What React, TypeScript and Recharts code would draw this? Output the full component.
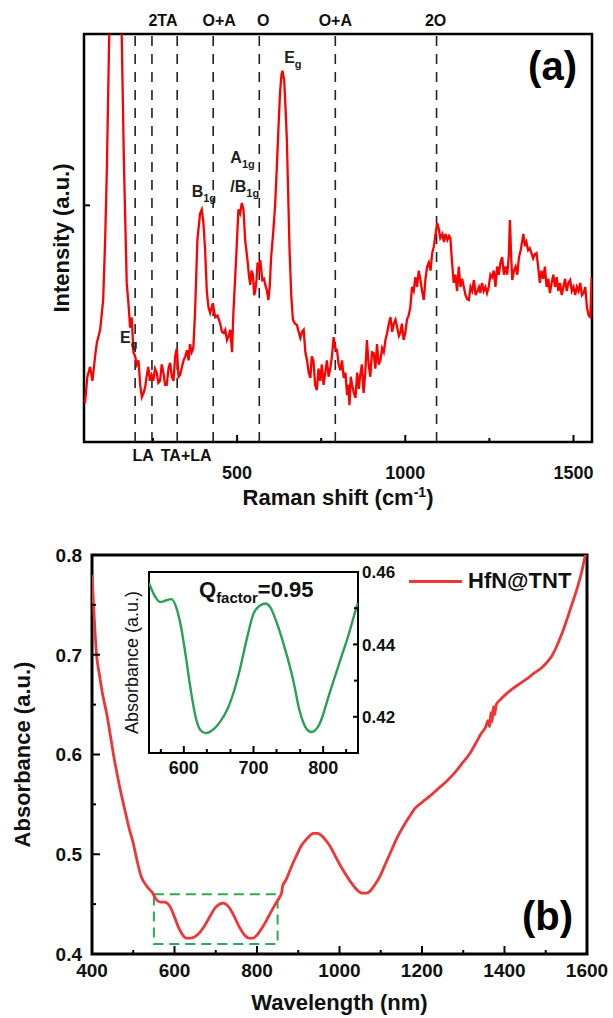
import React from 'react'
import {
  LineChart,
  Line,
  XAxis,
  YAxis,
  ReferenceLine,
  ReferenceArea,
  ReferenceDot,
  Legend,
} from 'recharts'

const FONT = '"Liberation Sans", Arial, Helvetica, sans-serif'

// ---------- (a) Raman spectrum ----------
const ramanShift = [
  48, 55, 63, 70, 78, 83, 93, 102, 108, 113,
  120, 137, 157, 164, 172, 178, 182, 187, 192, 197,
  202, 207, 212, 217, 222, 227, 231, 236, 241, 246,
  251, 256, 261, 266, 271, 276, 281, 286, 291, 296,
  301, 306, 311, 316, 321, 326, 331, 336, 341, 346,
  351, 356, 360, 365, 370, 375, 382, 390, 395, 400,
  405, 410, 415, 420, 428, 435, 442, 450, 455, 460,
  465, 470, 475, 480, 485, 489, 497, 504, 509, 514,
  519, 524, 531, 535, 539, 543, 547, 551, 554, 558,
  561, 565, 569, 575, 580, 584, 589, 593, 597, 601,
  608, 613, 618, 623, 628, 632, 635, 640, 644, 648,
  656, 661, 666, 672, 678, 683, 688, 693, 698, 703,
  708, 713, 718, 722, 727, 732, 737, 742, 747, 752,
  757, 762, 767, 772, 777, 782, 787, 792, 797, 802,
  807, 812, 817, 822, 827, 831, 834, 838, 842, 847,
  852, 857, 862, 866, 871, 876, 881, 886, 891, 896,
  901, 906, 911, 916, 921, 926, 931, 936, 941, 946,
  951, 956, 961, 966, 971, 976, 981, 985, 990, 995,
  1000, 1005, 1010, 1015, 1020, 1025, 1030, 1035, 1040, 1045,
  1050, 1055, 1060, 1065, 1070, 1075, 1080, 1085, 1090, 1095,
  1100, 1104, 1110, 1115, 1119, 1125, 1130, 1134, 1139, 1144,
  1149, 1154, 1159, 1164, 1169, 1174, 1179, 1184, 1189, 1194,
  1199, 1204, 1209, 1214, 1219, 1223, 1228, 1233, 1238, 1243,
  1248, 1253, 1258, 1263, 1268, 1273, 1278, 1283, 1288, 1293,
  1298, 1303, 1308, 1311, 1315, 1318, 1323, 1328, 1333, 1338,
  1343, 1347, 1351, 1356, 1360, 1365, 1370, 1375, 1380, 1385,
  1390, 1395, 1400, 1405, 1410, 1415, 1420, 1425, 1430, 1435,
  1440, 1445, 1450, 1455, 1460, 1465, 1470, 1475, 1480, 1485,
  1490, 1495, 1500, 1505, 1510, 1515, 1520, 1525, 1530, 1535,
  1540, 1545, 1550, 1554,
]
const ramanIntensity = [
  9.5, 16, 18.4, 15, 21, 24.2, 27.5, 34.8, 50, 67,
  100, 170, 100, 67, 39, 33, 28, 30.5, 22, 21,
  19, 20, 14, 11, 12, 13.5, 16, 18.4, 15, 16.4,
  15, 18, 17, 14.5, 15, 19, 17, 14, 14, 18,
  19.4, 16, 15, 21, 23, 16, 16.5, 18.4, 20, 21,
  22.5, 20, 24, 22, 23, 31.6, 49.5, 56, 57, 53.7,
  47, 37, 33, 31.6, 34, 30.6, 31, 29, 27, 26.7,
  27.5, 25, 26, 27.5, 22, 31.6, 44.6, 57, 56, 58.6,
  57, 49.5, 44.6, 41, 38.5, 42, 41, 36, 37, 40,
  44, 42, 44.6, 39.7, 40, 38.5, 37, 34.8, 38, 45,
  52, 58, 67, 77, 86, 90, 91, 88.7, 82, 74,
  47, 36, 30, 29, 28.7, 27, 25.5, 27, 27.5, 22,
  20, 17, 15.7, 21, 20, 14, 12.7, 18, 15, 19,
  14, 17, 20, 16, 18, 21, 25.7, 23, 22.5, 19,
  17.6, 20, 15.7, 17, 11.5, 14, 9, 16, 14, 12,
  10.8, 17, 13, 16.4, 19, 12, 17, 25, 19, 16,
  22, 21.8, 18, 24, 19, 20, 23, 22, 25, 26.7,
  29, 30.6, 27, 29, 30, 28, 26, 26.7, 29, 25,
  26.7, 30, 31, 33, 38, 37, 40.4, 38, 42, 39.7,
  37, 34.8, 40, 43, 44, 42, 46.3, 48, 51, 53.7,
  52, 50, 51, 49, 51, 49.5, 50.5, 50, 44, 39,
  41, 37, 43, 38, 40, 38, 36, 35, 34.8, 38,
  37, 39.7, 36, 37, 38, 36.5, 39, 37, 38, 36.5,
  38, 41, 40.4, 42, 38, 43, 41, 44, 45.3, 41,
  43, 41, 46, 54.4, 45, 39.7, 42, 43, 41, 45.3,
  47, 49, 51, 48, 49, 47, 47.5, 46.3, 45, 46,
  46.3, 43, 39, 42, 40, 43, 38, 40, 36.5, 39,
  41, 38, 40.4, 37, 39, 36, 38, 40, 37, 39,
  39.7, 37, 38, 36, 38, 37, 39, 36, 36.5, 38,
  33, 31, 30.6, 40.4,
]
const ramanTicks = [250, 500, 750, 1000, 1250, 1500]
const ramanMajor = [500, 1000, 1500]

const phononShift = [197, 247, 322, 429, 566, 792, 1093]
const phononLabel = ['LA', '2TA', 'TA+LA', 'O+A', 'O', 'O+A', '2O']
const phononBelow = [true, false, true, false, false, false, false]
// small nudges so the labels sit where the figure puts them
const phononDx = [8, 11, 9, 6, 4, 0, -1]

const modeName = ['E', 'B', 'A', '/B', 'E']
const modeSub = ['g', '1g', '1g', '1g', 'g']
const modeShift = [640, 365, 480, 480, 152]
const modeLevel = [92.9, 60.1, 68.3, 61.3, 24.3]

// ---------- (b) absorbance ----------
const wavelength = [
  400, 405, 411, 418, 425, 436, 445, 452, 462, 471,
  481, 490, 500, 509, 519, 533, 547, 557, 566, 575,
  582, 590, 600, 613, 628, 640, 655, 671, 685, 700,
  718, 730, 742, 756, 770, 780, 790, 800, 812, 822,
  835, 846, 855, 860, 862, 870, 884, 896, 908, 922,
  937, 947, 956, 965, 974, 990, 1003, 1018, 1031, 1043,
  1055, 1065, 1074, 1085, 1097, 1112, 1126, 1140, 1155, 1170,
  1183, 1200, 1221, 1240, 1259, 1278, 1297, 1316, 1330, 1345,
  1355, 1360, 1364, 1367, 1370, 1373, 1376, 1380, 1390, 1405,
  1420, 1437, 1455, 1470, 1490, 1502, 1515, 1526, 1540, 1551,
  1563, 1575, 1587, 1595, 1600,
]
const absorbance = [
  0.78, 0.74, 0.7, 0.68, 0.662, 0.64, 0.618, 0.6, 0.578, 0.56,
  0.542, 0.526, 0.511, 0.494, 0.478, 0.468, 0.461, 0.454, 0.452, 0.452,
  0.451, 0.447, 0.437, 0.424, 0.416, 0.416, 0.419, 0.427, 0.437, 0.447,
  0.451, 0.448, 0.44, 0.428, 0.419, 0.416, 0.416, 0.419, 0.426, 0.433,
  0.443, 0.451, 0.457, 0.462, 0.468, 0.474, 0.488, 0.499, 0.509, 0.516,
  0.521, 0.521, 0.519, 0.515, 0.51, 0.498, 0.488, 0.478, 0.47, 0.464,
  0.461, 0.461, 0.463, 0.469, 0.477, 0.491, 0.504, 0.517, 0.528, 0.538,
  0.546, 0.552, 0.559, 0.566, 0.573, 0.581, 0.591, 0.601, 0.611, 0.622,
  0.628, 0.634, 0.628, 0.642, 0.633, 0.648, 0.64, 0.65, 0.655, 0.661,
  0.666, 0.671, 0.676, 0.681, 0.687, 0.692, 0.699, 0.708, 0.722, 0.735,
  0.75, 0.765, 0.783, 0.798, 0.805,
]
const wlTicks = [400, 500, 600, 700, 800, 900, 1000, 1100, 1200, 1300, 1400, 1500, 1600]
const wlMajor = [400, 600, 800, 1000, 1200, 1400, 1600]
const absTicks = [0.4, 0.45, 0.5, 0.55, 0.6, 0.65, 0.7, 0.75, 0.8]
const absMajor = [0.4, 0.5, 0.6, 0.7, 0.8]

// ---------- inset ----------
const insetWl = [
  550, 559, 566, 575, 582, 589, 596, 603, 610, 617,
  624, 631, 641, 652, 664, 679, 691, 700, 710, 717,
  724, 733, 743, 757, 766, 776, 783, 795, 809, 823,
  837, 848, 850,
]
const insetAbs = [
  0.457, 0.4531, 0.4517, 0.4522, 0.4525, 0.4503, 0.4448, 0.4365, 0.4273, 0.4199,
  0.4163, 0.4155, 0.4163, 0.4186, 0.4227, 0.4319, 0.442, 0.4485, 0.4508, 0.4513,
  0.4503, 0.4462, 0.4402, 0.4301, 0.4218, 0.4167, 0.4158, 0.4181, 0.4264, 0.4347,
  0.443, 0.4503, 0.4515,
]
const insetXTicks = [567, 600, 633, 667, 700, 733, 767, 800, 833]
const insetXMajor = [600, 700, 800]
const insetYTicks = [0.41, 0.42, 0.43, 0.44, 0.45, 0.46]
const insetYMajor = [0.42, 0.44, 0.46]

const ramanData = ramanShift.map((x, i) => ({ x, y: ramanIntensity[i] }))
const absData = wavelength.map((x, i) => ({ x, y: absorbance[i] }))
const insetData = insetWl.map((x, i) => ({ x, y: insetAbs[i] }))

const isMajor = (list: number[], v: number) => list.some((m) => Math.abs(m - v) < 1e-6)

// inward tick marks, label only on the major ones
function InTick(props: any) {
  const { x, y, payload, majors, side, len = 7, minorLen = 4, gap = 22, fontSize = 18, digits = 0, sw = 2 } = props
  const v = payload.value
  const major = isMajor(majors, v)
  const l = major ? len : minorLen
  const label = major ? v.toFixed(digits) : null
  const txt = { fontSize, fontWeight: 'bold' as const, fontFamily: FONT, fill: '#111' }
  if (side === 'bottom') {
    return (
      <g>
        <line x1={x} x2={x} y1={y} y2={y - l} stroke="#000" strokeWidth={sw} />
        {label && <text x={x} y={y + gap} textAnchor="middle" {...txt}>{label}</text>}
      </g>
    )
  }
  if (side === 'left') {
    return (
      <g>
        <line x1={x} x2={x + l} y1={y} y2={y} stroke="#000" strokeWidth={sw} />
        {label && <text x={x - gap} y={y + fontSize * 0.36} textAnchor="end" {...txt}>{label}</text>}
      </g>
    )
  }
  return (
    <g>
      <line x1={x} x2={x - l} y1={y} y2={y} stroke="#000" strokeWidth={sw} />
      {label && <text x={x + gap} y={y + fontSize * 0.36} textAnchor="start" {...txt}>{label}</text>}
    </g>
  )
}

const PhononLabel = ({ viewBox, text, below, dx }: any) => {
  if (!viewBox) return null
  const y = below ? viewBox.y + viewBox.height + 19 : viewBox.y - 8
  return (
    <text x={viewBox.x + dx} y={y} textAnchor="middle" fontSize={16} fontWeight="bold" fontFamily={FONT} fill="#111">
      {text}
    </text>
  )
}

const ModeLabel = ({ viewBox, name, sub }: any) => {
  if (!viewBox) return null
  return (
    <text x={viewBox.x} y={viewBox.y} fontSize={16} fontWeight="bold" fontFamily={FONT} fill="#222">
      {name}
      <tspan dy={5} fontSize={11}>{sub}</tspan>
    </text>
  )
}

const XTitle = ({ viewBox, dy, children }: any) => {
  if (!viewBox) return null
  return (
    <text x={viewBox.x + viewBox.width / 2} y={viewBox.y + dy} textAnchor="middle" fontSize={22} fontWeight="bold" fontFamily={FONT} fill="#111">
      {children}
    </text>
  )
}

const YTitle = ({ viewBox, dx, text, size = 22, weight = 'bold' }: any) => {
  if (!viewBox) return null
  const cx = viewBox.x + viewBox.width - dx
  const cy = viewBox.y + viewBox.height / 2
  return (
    <text x={cx} y={cy} transform={`rotate(-90 ${cx} ${cy})`} textAnchor="middle" fontSize={size} fontWeight={weight} fontFamily={FONT} fill="#111">
      {text}
    </text>
  )
}

const PanelTag = ({ viewBox, text, dx, dy }: any) => {
  if (!viewBox) return null
  return (
    <text x={viewBox.x + viewBox.width - dx} y={viewBox.y + dy} textAnchor="end" fontSize={40} fontWeight="bold" fontFamily={FONT} fill="#000">
      {text}
    </text>
  )
}

const PanelTagBottom = ({ viewBox, text, dx, dy }: any) => {
  if (!viewBox) return null
  return (
    <text x={viewBox.x + viewBox.width - dx} y={viewBox.y + viewBox.height - dy} textAnchor="end" fontSize={40} fontWeight="bold" fontFamily={FONT} fill="#000">
      {text}
    </text>
  )
}

const InsetText = ({ viewBox }: any) => {
  if (!viewBox) return null
  const cx = viewBox.x - 11
  const cy = viewBox.y + viewBox.height / 2
  return (
    <g fontFamily={FONT}>
      <text x={cx} y={cy} transform={`rotate(-90 ${cx} ${cy})`} textAnchor="middle" fontSize={18} fill="#111">
        Absorbance (a.u.)
      </text>
      <text x={viewBox.x + 50} y={viewBox.y + 25} fontSize={22} fontWeight="bold" fill="#111">
        Q<tspan dy={6} fontSize={15}>factor</tspan>
        <tspan dy={-6}>=0.95</tspan>
      </text>
    </g>
  )
}

const LegendBox = (props: any) => {
  const item = props.payload && props.payload[0]
  if (!item) return null
  return (
    <div style={{ display: 'flex', alignItems: 'center', fontFamily: FONT, fontSize: 22, fontWeight: 'bold', color: '#111' }}>
      <span style={{ display: 'inline-block', width: 53, height: 3, background: item.color }} />
      <span style={{ marginLeft: 6 }}>{item.value}</span>
    </div>
  )
}

export default function App() {
  return (
    <div style={{ position: 'absolute', left: 0, top: 0, width: 613, height: 1018, background: '#fff' }}>
      {/* (a) */}
      <div style={{ position: 'absolute', left: 0, top: 0 }}>
        <LineChart width={613} height={520} data={ramanData} margin={{ top: 34, right: 21, bottom: 48, left: 24 }}>
          <XAxis
            type="number"
            dataKey="x"
            domain={[45, 1555]}
            allowDataOverflow
            ticks={ramanTicks}
            interval={0}
            tickSize={0}
            tickMargin={0}
            tickLine={false}
            axisLine={false}
            height={30}
            tick={<InTick side="bottom" majors={ramanMajor} gap={37} />}
            label={
              <XTitle dy={63}>
                Raman shift (cm<tspan dy={-8} fontSize={14}>-1</tspan>
                <tspan dy={8}>)</tspan>
              </XTitle>
            }
          />
          <YAxis
            type="number"
            domain={[0, 100]}
            allowDataOverflow
            ticks={[58]}
            interval={0}
            tickSize={0}
            tickMargin={0}
            tickLine={false}
            axisLine={false}
            width={60}
            tick={<InTick side="left" majors={[]} minorLen={6} />}
            label={<YTitle dx={15} text="Intensity (a.u.)" />}
          />
          <ReferenceArea
            x1={45}
            x2={1555}
            y1={0}
            y2={100}
            fill="none"
            fillOpacity={0}
            stroke="#000"
            strokeWidth={2.5}
            label={<PanelTag text="(a)" dx={15} dy={46} />}
          />
          {phononShift.map((s, i) => (
            <ReferenceLine
              key={'ph' + i}
              x={s}
              stroke="#222"
              strokeWidth={1.6}
              strokeDasharray="10 8"
              label={<PhononLabel text={phononLabel[i]} below={phononBelow[i]} dx={phononDx[i]} />}
            />
          ))}
          <Line type="linear" dataKey="y" stroke="#ff0000" strokeWidth={2.3} dot={false} isAnimationActive={false} />
          {modeShift.map((s, i) => (
            <ReferenceDot
              key={'md' + i}
              x={s}
              y={modeLevel[i]}
              r={0.01}
              fill="none"
              stroke="none"
              label={<ModeLabel name={modeName[i]} sub={modeSub[i]} />}
            />
          ))}
        </LineChart>
      </div>

      {/* (b) */}
      <div style={{ position: 'absolute', left: 0, top: 520 }}>
        <LineChart width={613} height={498} data={absData} margin={{ top: 35, right: 26, bottom: 34, left: 32 }}>
          <XAxis
            type="number"
            dataKey="x"
            domain={[400, 1600]}
            allowDataOverflow
            ticks={wlTicks}
            interval={0}
            tickSize={0}
            tickMargin={0}
            tickLine={false}
            axisLine={false}
            height={30}
            tick={<InTick side="bottom" majors={wlMajor} gap={23} fontSize={19} len={8} minorLen={4} />}
            label={<XTitle dy={56}>Wavelength (nm)</XTitle>}
          />
          <YAxis
            type="number"
            domain={[0.4, 0.8]}
            allowDataOverflow
            ticks={absTicks}
            interval={0}
            tickSize={0}
            tickMargin={0}
            tickLine={false}
            axisLine={false}
            width={60}
            tick={<InTick side="left" majors={absMajor} gap={10} fontSize={19} digits={1} len={8} minorLen={4} />}
            label={<YTitle dx={62} text="Absorbance (a.u.)" />}
          />
          <ReferenceArea
            x1={400}
            x2={1600}
            y1={0.4}
            y2={0.8}
            fill="none"
            fillOpacity={0}
            stroke="#000"
            strokeWidth={3}
            label={<PanelTagBottom text="(b)" dx={14} dy={24} />}
          />
          <ReferenceArea
            x1={550}
            x2={850}
            y1={0.41}
            y2={0.46}
            fill="none"
            fillOpacity={0}
            stroke="#2fa85a"
            strokeWidth={2}
            strokeDasharray="10 6"
          />
          <Legend
            layout="vertical"
            align="center"
            verticalAlign="middle"
            wrapperStyle={{ top: 48, left: 409, width: 200 }}
            content={<LegendBox />}
          />
          <Line
            name="HfN@TNT"
            type="monotone"
            dataKey="y"
            stroke="#ef3535"
            strokeWidth={2.8}
            dot={false}
            isAnimationActive={false}
          />
        </LineChart>
      </div>

      {/* inset */}
      <div style={{ position: 'absolute', left: 110, top: 560 }}>
        <LineChart width={300} height={225} data={insetData} margin={{ top: 12, right: 2, bottom: 12, left: 39 }}>
          <XAxis
            type="number"
            dataKey="x"
            domain={[550, 850]}
            allowDataOverflow
            ticks={insetXTicks}
            interval={0}
            tickSize={0}
            tickMargin={0}
            tickLine={false}
            axisLine={false}
            height={20}
            tick={<InTick side="bottom" majors={insetXMajor} gap={21} fontSize={18} len={7} minorLen={4} />}
          />
          <YAxis
            orientation="right"
            type="number"
            domain={[0.41, 0.46]}
            allowDataOverflow
            ticks={insetYTicks}
            interval={0}
            tickSize={0}
            tickMargin={0}
            tickLine={false}
            axisLine={false}
            width={50}
            tick={<InTick side="right" majors={insetYMajor} gap={4} fontSize={17} digits={2} len={5} minorLen={4} />}
          />
          <ReferenceArea
            x1={550}
            x2={850}
            y1={0.41}
            y2={0.46}
            fill="none"
            fillOpacity={0}
            stroke="#000"
            strokeWidth={2}
            label={<InsetText />}
          />
          <Line type="monotone" dataKey="y" stroke="#2aa052" strokeWidth={2.4} dot={false} isAnimationActive={false} />
        </LineChart>
      </div>
    </div>
  )
}
